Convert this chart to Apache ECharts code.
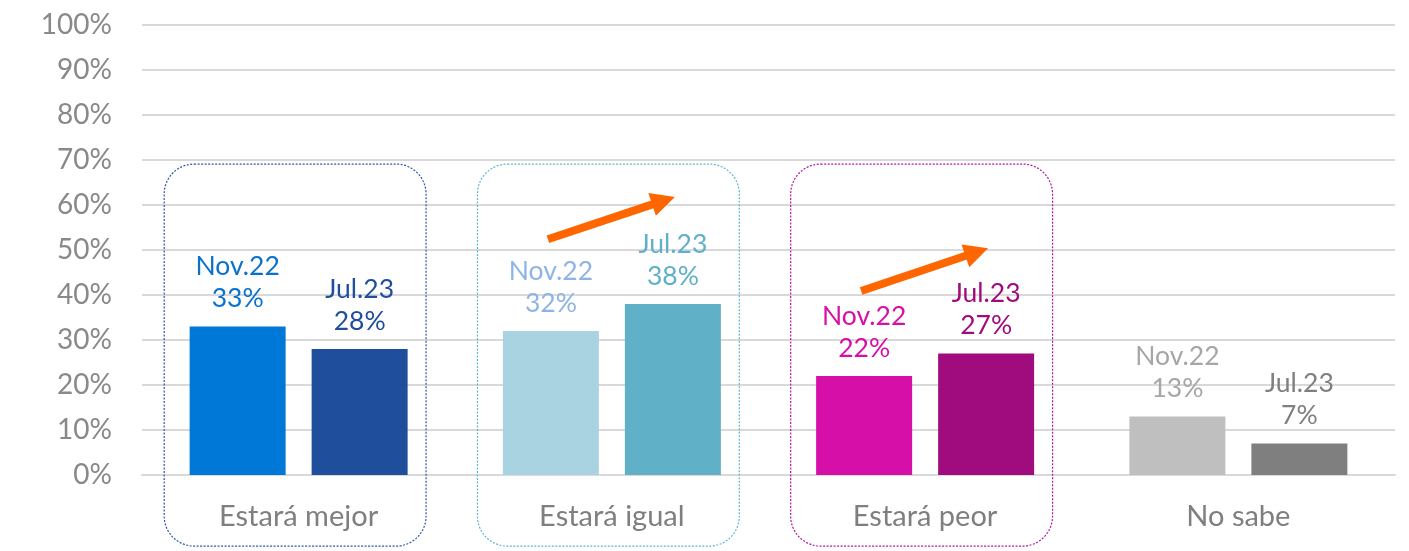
<!DOCTYPE html>
<html>
<head>
<meta charset="utf-8">
<script src="https://cdn.jsdelivr.net/npm/echarts@6/dist/echarts.min.js"></script>
<style>
html,body{margin:0;padding:0;background:#fff;}
#c{width:1409px;height:551px;}
</style>
</head>
<body>
<div id="c"></div>
<script>
// ---- data ----
const categories = ['Estará mejor', 'Estará igual', 'Estará peor', 'No sabe'];
const seriesNames = ['Nov.22', 'Jul.23'];
const novValues = [33, 32, 22, 13];
const julValues = [28, 38, 27, 7];
const yTicks = [0, 10, 20, 30, 40, 50, 60, 70, 80, 90, 100];

// ---- styles ----
const novBarColors = ['#0078D7', '#A9D3E1', '#D60FA8', '#BFBFBF'];
const julBarColors = ['#1F4E9C', '#60B1C8', '#A00C7D', '#7F7F7F'];
const novLabelColors = ['#0A72CC', '#8EB4E6', '#D60FA8', '#A6A6A6'];
const julLabelColors = ['#1F4E9C', '#5FB0C8', '#A00C7D', '#7F7F7F'];
const boxColors = ['#2F55A4', '#5EB5CF', '#B0169A'];
const FONT = 'Lato, "Open Sans", sans-serif';
const BAR_W = 96, BAR_GAP = 26;
const OFFSET = (BAR_W + BAR_GAP) / 2;

const chart = echarts.init(document.getElementById('c'), null, {renderer: 'canvas'});

function mkSeries(name, values, barColors, labelColors) {
  return {
    name: name,
    type: 'bar',
    barWidth: BAR_W,
    barGap: (BAR_GAP / BAR_W * 100) + '%',
    data: values.map((v, i) => ({
      value: v,
      itemStyle: {color: barColors[i]},
      label: {color: labelColors[i]}
    })),
    label: {
      show: true,
      position: 'top',
      distance: 12,
      fontFamily: FONT,
      fontSize: 26.5,
      lineHeight: 32,
      formatter: p => p.seriesName + '\n' + p.value + '%'
    },
    z: 3
  };
}

chart.setOption({
  animation: false,
  backgroundColor: '#ffffff',
  grid: {left: 142, right: 14, top: 25, bottom: 76, containLabel: false},
  xAxis: {
    type: 'category',
    data: categories,
    axisLine: {show: true, lineStyle: {color: '#D9D9D9', width: 2}},
    axisTick: {show: false},
    axisLabel: {color: '#7F7F7F', fontFamily: FONT, fontSize: 29, margin: 27}
  },
  yAxis: {
    type: 'value',
    min: yTicks[0],
    max: yTicks[yTicks.length - 1],
    interval: yTicks[1] - yTicks[0],
    axisLine: {show: false},
    axisTick: {show: false},
    axisLabel: {color: '#898989', fontFamily: FONT, fontSize: 28, margin: 30, formatter: '{value}%'},
    splitLine: {lineStyle: {color: '#D9D9D9', width: 2}}
  },
  series: [
    mkSeries(seriesNames[0], novValues, novBarColors, novLabelColors),
    mkSeries(seriesNames[1], julValues, julBarColors, julLabelColors)
  ]
});

// ---- decorations: rounded dotted boxes and orange arrows ----
const boxTopValue = 69.1, boxBottomValue = -15.8;
const arrowDefs = [
  {cat: 1, from: 52.4, to: 61.8},
  {cat: 2, from: 40.9, to: 50.4}
];
const graphics = [];
for (let i = 0; i < boxColors.length; i++) {
  const cx = chart.convertToPixel({xAxisIndex: 0}, i);
  const x0 = chart.convertToPixel({xAxisIndex: 0}, 0);
  const x1 = chart.convertToPixel({xAxisIndex: 0}, 1);
  const catW = x1 - x0;
  const half = catW * 0.418;
  const top = chart.convertToPixel({yAxisIndex: 0}, boxTopValue);
  const bot = chart.convertToPixel({yAxisIndex: 0}, boxBottomValue);
  graphics.push({
    type: 'rect',
    shape: {x: cx - half - 3.5, y: top, width: half * 2, height: bot - top, r: 30},
    style: {fill: 'none', stroke: boxColors[i], lineWidth: 1.2, lineDash: [2, 1.5]},
    z: 1
  });
}
arrowDefs.forEach(a => {
  const cx = chart.convertToPixel({xAxisIndex: 0}, a.cat);
  const sx = cx - OFFSET - 3, ex = cx + OFFSET + 2;
  const sy = chart.convertToPixel({yAxisIndex: 0}, a.from);
  const ey = chart.convertToPixel({yAxisIndex: 0}, a.to);
  const dx = ex - sx, dy = ey - sy;
  const len = Math.sqrt(dx * dx + dy * dy);
  const ux = dx / len, uy = dy / len;
  const px = -uy, py = ux;
  const headL = 24, headW = 12;
  const bx = ex - ux * headL, by = ey - uy * headL;
  graphics.push({
    type: 'line',
    shape: {x1: sx, y1: sy, x2: bx + ux * 2, y2: by + uy * 2},
    style: {stroke: '#FF6600', lineWidth: 8},
    z: 5
  });
  graphics.push({
    type: 'polygon',
    shape: {points: [[ex, ey], [bx + px * headW, by + py * headW], [bx - px * headW, by - py * headW]]},
    style: {fill: '#FF6600'},
    z: 5
  });
});
chart.setOption({graphic: graphics});
</script>
</body>
</html>
